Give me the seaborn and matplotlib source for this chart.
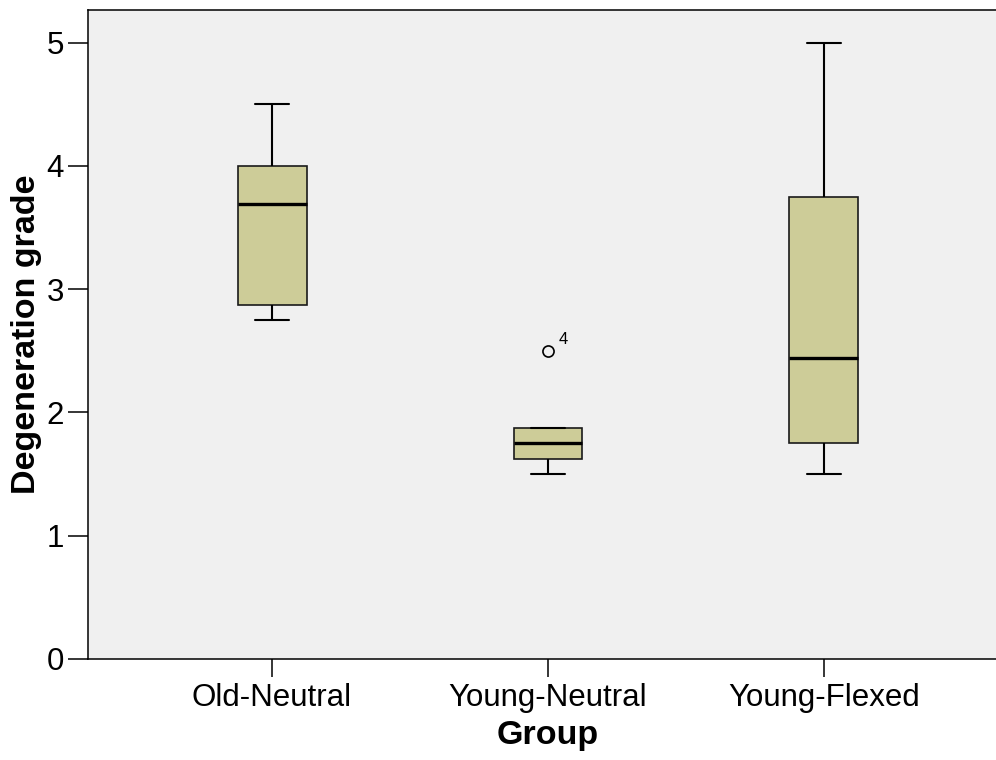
import numpy as np
import pandas as pd
import matplotlib
matplotlib.use("Agg")
import matplotlib.pyplot as plt
import seaborn as sns

# Degeneration grades per group
groups = ["Old-Neutral", "Young-Neutral", "Young-Flexed"]
old_neutral = [2.75, 2.875, 3.6875, 4.0, 4.5]
young_neutral = [1.5, 1.625, 1.75, 1.875, 2.5]
young_flexed = [1.5, 1.75, 2.4375, 3.75, 5.0]
# case numbers shown next to outlying points
outlier_cases = {"Young-Neutral": "4"}
y_ticks = [0, 1, 2, 3, 4, 5]

df = pd.DataFrame({
    "Group": np.repeat(groups, [len(old_neutral), len(young_neutral), len(young_flexed)]),
    "Degeneration grade": old_neutral + young_neutral + young_flexed,
})

sns.set_theme(style="ticks", rc={
    "axes.facecolor": "#f0f0f0",
    "figure.facecolor": "white",
    "axes.edgecolor": "black",
    "axes.labelcolor": "black",
    "text.color": "black",
    "axes.linewidth": 1.1,
    "xtick.color": "black",
    "ytick.color": "black",
})
plt.rcParams["font.family"] = ["Liberation Sans", "DejaVu Sans"]

fig = plt.figure(figsize=(9.96, 7.6), dpi=100)
ax = fig.add_axes([88 / 996, 101 / 760, (1008 - 88) / 996, (659 - 10) / 760])

sns.boxplot(
    data=df, x="Group", y="Degeneration grade", order=groups,
    width=0.25, color="#cdcc98", saturation=1, ax=ax,
    boxprops=dict(edgecolor="#1a1a1a", linewidth=1.2),
    medianprops=dict(color="black", linewidth=2.4),
    whiskerprops=dict(color="black", linewidth=1.5),
    capprops=dict(color="black", linewidth=1.5),
    flierprops=dict(marker="o", markerfacecolor="none", markeredgecolor="black",
                    markeredgewidth=1.2, markersize=8),
)

# label the outlying cases with their case numbers
for i, (name, vals) in enumerate(zip(groups, [old_neutral, young_neutral, young_flexed])):
    q1, q3 = np.percentile(vals, [25, 75])
    iqr = q3 - q1
    for v in vals:
        if (v > q3 + 1.5 * iqr or v < q1 - 1.5 * iqr) and name in outlier_cases:
            ax.annotate(outlier_cases[name], xy=(i, v), xytext=(8, 5),
                        textcoords="offset points", fontsize=12, color="black")

ax.set_xlim(-0.6667, 2.6667)
ax.set_ylim(0, (659 - 10) / 123.3)
ax.set_yticks(y_ticks)
ax.set_yticklabels([str(t) for t in y_ticks])

ax.tick_params(axis="y", direction="out", length=14.4, width=1.1, pad=3, labelsize=22.5)
ax.tick_params(axis="x", direction="out", length=13, width=1.1, pad=4, labelsize=22.5)

for side in ["left", "bottom", "top", "right"]:
    ax.spines[side].set_visible(True)
    ax.spines[side].set_color("black")

ax.set_xlabel("Group", fontsize=24.5, fontweight="bold", labelpad=5)
ax.set_ylabel("Degeneration grade", fontsize=24.5, fontweight="bold", labelpad=3)

fig.savefig("out.png", dpi=100)
